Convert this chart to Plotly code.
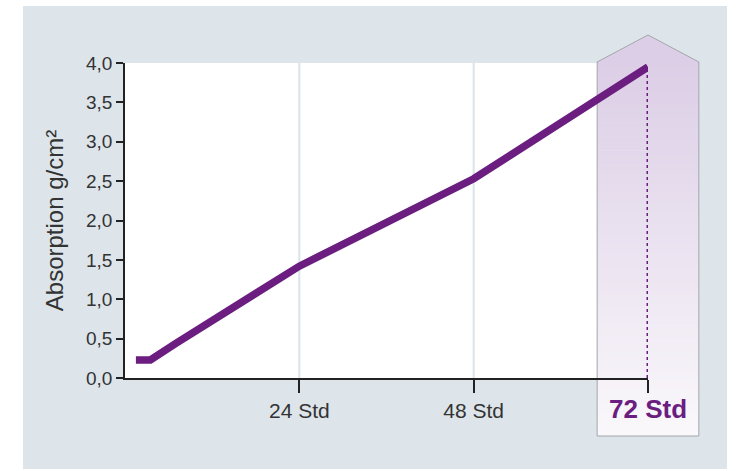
import plotly.graph_objects as go

# ---- data ----
hours = [1.5, 3.5, 7, 24, 48, 72]
absorption = [0.23, 0.23, 0.44, 1.42, 2.53, 3.95]
x_ticks = [24, 48, 72]
x_tick_labels = ["24 Std", "48 Std", ""]
highlight_label = "72 Std"
y_ticks = [0, 0.5, 1, 1.5, 2, 2.5, 3, 3.5, 4]
y_title = "Absorption g/cm²"
grid_hours = [24, 48]

# ---- style ----
PURPLE = "#6b1d80"
FONT = "Liberation Sans"
W, H = 737, 471
ML, MR, MT, MB = 125, 89, 63, 93
X_MAX = 72
Y_MAX = 4

plot_w = W - ML - MR
plot_h = H - MT - MB


def px_x(px):
    return (px - ML) / plot_w


def px_y(py):
    return (H - MB - py) / plot_h


shapes = []
# outer panel
shapes.append(dict(type="rect", xref="paper", yref="paper",
                   x0=px_x(23), x1=px_x(727), y0=px_y(469), y1=px_y(6),
                   fillcolor="#dde5ea", line=dict(width=0), layer="below"))
# white plot area
shapes.append(dict(type="rect", xref="paper", yref="paper",
                   x0=0, x1=1, y0=0, y1=1,
                   fillcolor="white", line=dict(width=0), layer="below"))

# highlight arrow around last time point
hc = hours[-1] / X_MAX
hw = 7 / X_MAX
hx0, hx1 = hc - hw, hc + hw
y_sh = px_y(62)
y_apex = px_y(35)
y_bot = px_y(436)
top_rgb = (220, 206, 230)
bot_rgb = (250, 248, 251)
N = 80
for i in range(N):
    t0 = i / N
    t1 = (i + 1) / N
    tm = (i + 0.5) / N
    c = tuple(round(bot_rgb[k] + (top_rgb[k] - bot_rgb[k]) * tm) for k in range(3))
    ya = y_bot + (y_sh - y_bot) * t0
    yb = y_bot + (y_sh - y_bot) * t1 + 0.002
    shapes.append(dict(type="rect", xref="paper", yref="paper",
                       x0=hx0, x1=hx1, y0=ya, y1=min(yb, y_sh + 0.002),
                       fillcolor="rgb(%d,%d,%d)" % c, line=dict(width=0), layer="below"))
shapes.append(dict(type="path", xref="paper", yref="paper",
                   path="M %f,%f L %f,%f L %f,%f Z" % (hx0, y_sh, hc, y_apex, hx1, y_sh),
                   fillcolor="rgb(%d,%d,%d)" % top_rgb, line=dict(width=0), layer="below"))
shapes.append(dict(type="path", xref="paper", yref="paper",
                   path="M %f,%f L %f,%f L %f,%f L %f,%f L %f,%f Z" % (
                       hx0, y_bot, hx0, y_sh, hc, y_apex, hx1, y_sh, hx1, y_bot),
                   line=dict(color="#a3a6ab", width=1), layer="below"))
# vertical gridlines
for g in grid_hours:
    shapes.append(dict(type="line", xref="x", yref="paper", x0=g, x1=g, y0=0, y1=1,
                       line=dict(color="#dae4eb", width=2), layer="below"))

fig = go.Figure()
fig.add_trace(go.Scatter(x=[hours[-1], hours[-1]], y=[0, absorption[-1]], mode="lines",
                         line=dict(color=PURPLE, width=3, dash="3px,3px"),
                         hoverinfo="skip", showlegend=False))
fig.add_trace(go.Scatter(x=hours, y=absorption, mode="lines",
                         line=dict(color=PURPLE, width=7.5),
                         showlegend=False))

fig.update_layout(
    width=W, height=H, autosize=False,
    margin=dict(l=ML, r=MR, t=MT, b=MB, pad=0),
    paper_bgcolor="white", plot_bgcolor="rgba(0,0,0,0)",
    separators=",.",
    font=dict(family=FONT, color="#333333"),
    shapes=shapes,
    showlegend=False,
    xaxis=dict(range=[0, X_MAX], tickvals=x_ticks, ticktext=x_tick_labels,
               ticks="outside", ticklen=13, tickwidth=1.5, tickcolor="#222222",
               showline=True, linecolor="#222222", linewidth=1.5,
               showgrid=False, zeroline=False,
               tickfont=dict(family=FONT, size=21, color="#333333")),
    yaxis=dict(range=[0, Y_MAX], tickvals=y_ticks, tickformat=".1f",
               ticks="outside", ticklen=7, tickwidth=1.5, tickcolor="#222222",
               showline=True, linecolor="#222222", linewidth=1.5,
               showgrid=False, zeroline=False,
               tickfont=dict(family=FONT, size=19, color="#333333"),
               title=dict(text=y_title, standoff=16,
                          font=dict(family=FONT, size=24, color="#333333"))),
    annotations=[dict(x=hours[-1], xref="x", y=px_y(409), yref="paper",
                      text="<b>%s</b>" % highlight_label, showarrow=False,
                      xanchor="center", yanchor="middle",
                      font=dict(family=FONT, size=26, color=PURPLE))],
)

fig.write_html("out.html", config={"displayModeBar": False},
               post_script="document.body.style.margin='0';document.body.style.padding='0';")
